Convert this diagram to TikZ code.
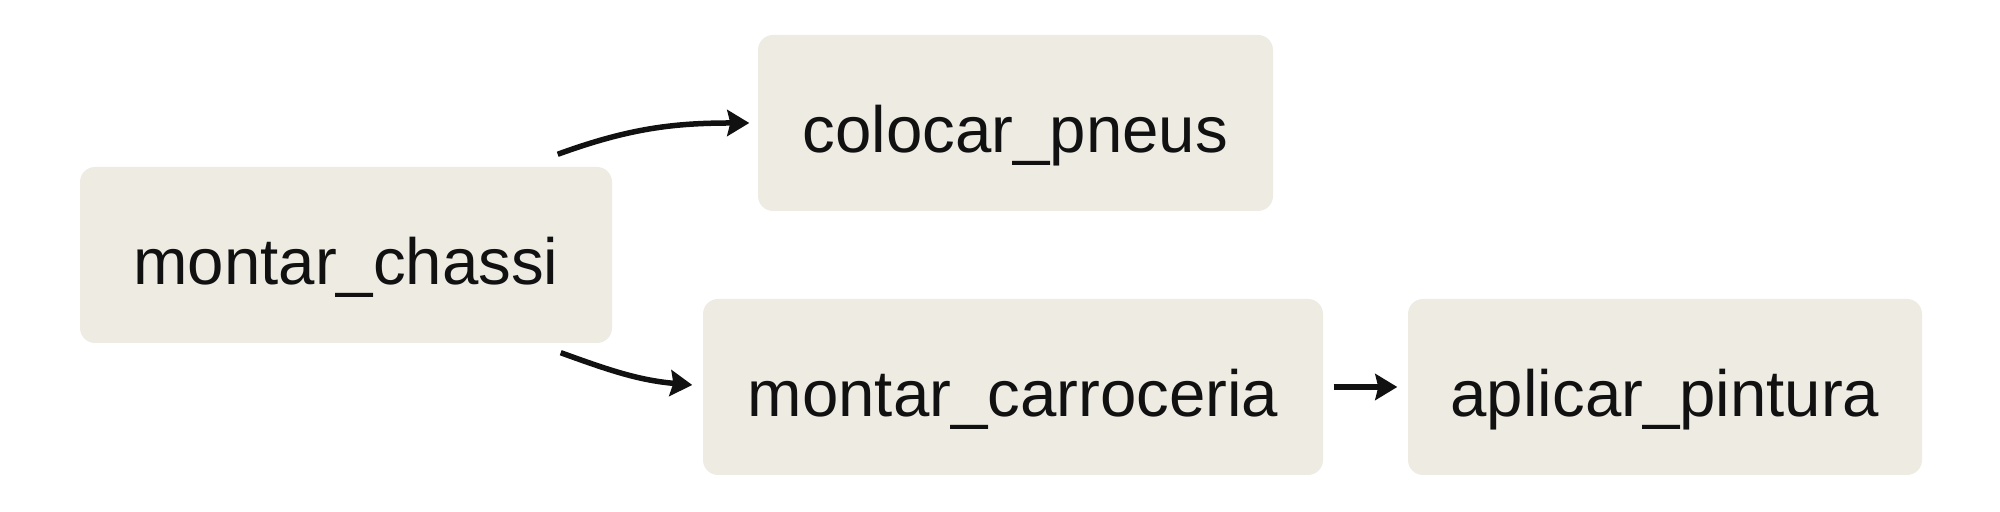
\documentclass[tikz,border=0pt]{standalone}
\usepackage{fontspec}
\setmainfont{Liberation Sans}
\usetikzlibrary{arrows.meta, positioning, calc}
\definecolor{boxfill}{HTML}{EEEBE3}
\definecolor{inkcol}{HTML}{111111}

\begin{document}
\begin{tikzpicture}[font=\fontsize{18.6}{22}\selectfont, text=inkcol,
  stepbox/.style = {rounded corners=0.15cm, minimum height=1.76cm, text height=0.6cm, text depth=0cm, align=center, fill=boxfill, inner sep=0pt},
  arrow/.style = {-{Stealth[length=0.22cm, width=0.26cm, inset=0.03cm]}, line width=0.055cm, draw=inkcol}
]
\useasboundingbox (0,0) rectangle (20,5.12);
\node[stepbox, minimum width=5.32cm] (chassi) at (3.46,2.57) {montar\_chassi};
\node[stepbox, minimum width=5.15cm] (pneus) at (10.155,3.89) {colocar\_pneus};
\node[stepbox, minimum width=6.20cm] (carroceria) at (10.13,1.25) {montar\_carroceria};
\node[stepbox, minimum width=5.14cm] (pintura) at (16.65,1.25) {aplicar\_pintura};
\draw[arrow] ([shift={(-0.55,0.12)}]chassi.north east) to[out=20, in=180] ([xshift=-0.08cm]pneus.west);
\draw[arrow] ([shift={(-0.52,-0.09)}]chassi.south east) to[out=-20, in=175] ([shift={(-0.1,0.02)}]carroceria.west);
\draw[arrow] ([xshift=0.1cm]carroceria.east) -- ([xshift=-0.1cm]pintura.west);
\end{tikzpicture}
\end{document}
